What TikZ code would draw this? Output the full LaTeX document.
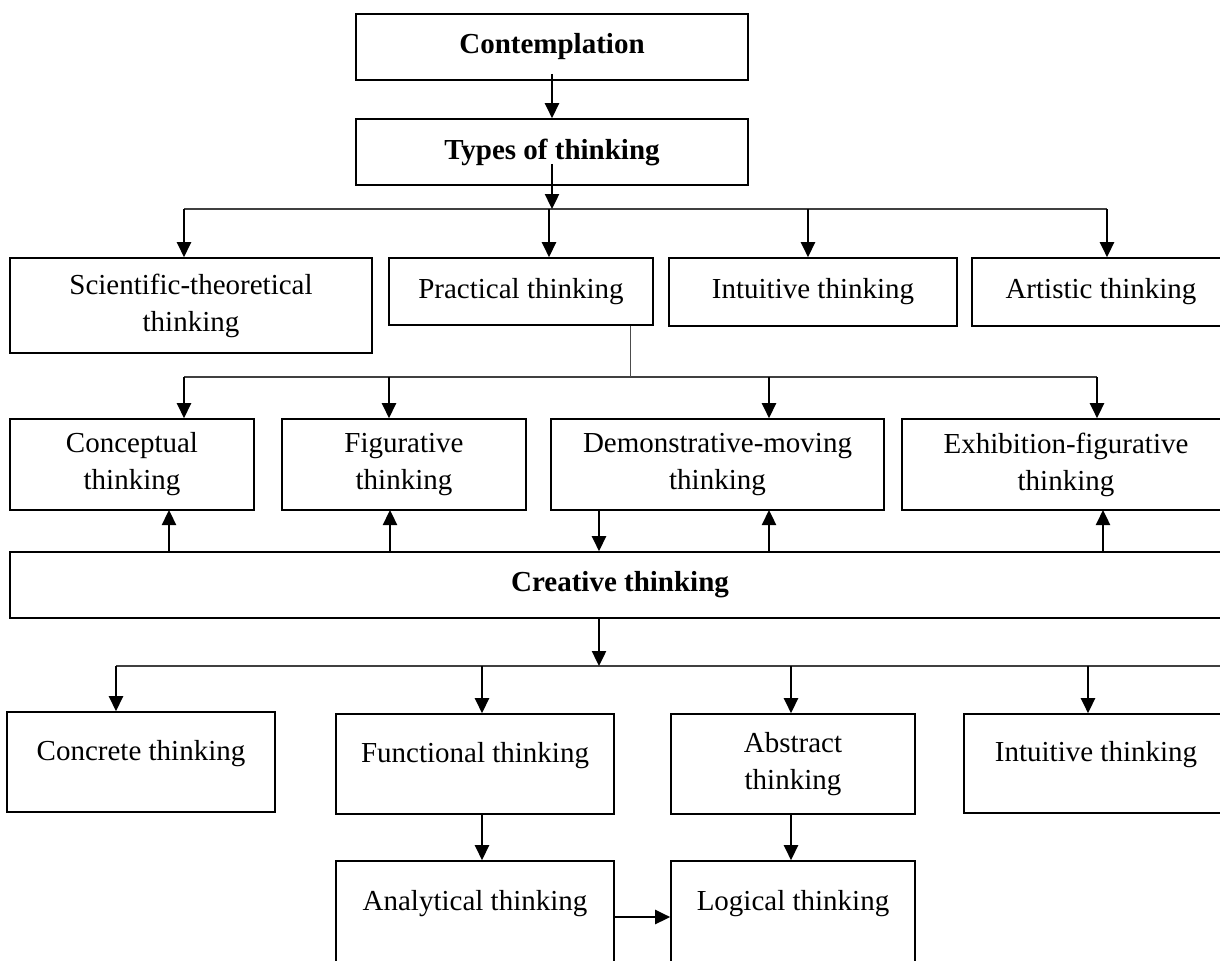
\documentclass[tikz,border=0pt]{standalone}
\usepackage{fontspec}
\setmainfont{Liberation Serif}
\usetikzlibrary{arrows.meta}
\begin{document}
\begin{tikzpicture}[x=0.5pt,y=-0.5pt,
    font=\fontsize{14.5}{18.5}\selectfont,
    box/.style={draw,line width=0.8pt,align=center,inner sep=0pt},
    lifted/.style={text depth=12pt},
    bus/.style={line width=0.6pt,black!75},
    >={Triangle[length=7.5pt,width=7pt]}]
      \useasboundingbox (0,0) rectangle (1220,960);
      \clip (0,0) rectangle (1220,960);
      \draw
        (552,47) node[box,minimum width=196pt,minimum height=33pt] (cont){\textbf{Contemplation}}
        (552,152) node[box,minimum width=196pt,minimum height=33pt] (types){\textbf{Types of thinking}}
        (191,305.5) node[box,minimum width=181pt,minimum height=47.5pt] (sci){Scientific-theoretical\\thinking}
        (521,291.5) node[box,minimum width=132pt,minimum height=33.5pt] (prac){Practical thinking}
        (813,292) node[box,minimum width=144pt,minimum height=34pt] (intu){Intuitive thinking}
        (1101,292) node[box,minimum width=129pt,minimum height=34pt] (art){Artistic thinking}
        (132,464.5) node[box,minimum width=122pt,minimum height=45.5pt] (conc){Conceptual\\thinking}
        (404,464.5) node[box,minimum width=122pt,minimum height=45.5pt] (fig){Figurative\\thinking}
        (717.5,464.5) node[box,minimum width=166.5pt,minimum height=45.5pt] (demo){Demonstrative-moving\\thinking}
        (1066,464.5) node[box,minimum width=164pt,minimum height=45.5pt] (exh){Exhibition-figurative\\thinking}
        (620,585) node[box,minimum width=610pt,minimum height=33pt] (crea){\textbf{Creative thinking}}
        (141,762) node[box,lifted,minimum width=134pt,minimum height=50pt] (concr){Concrete thinking}
        (475,764) node[box,lifted,minimum width=139pt,minimum height=50pt] (func){Functional thinking}
        (793,764) node[box,minimum width=122pt,minimum height=50pt] (abst){Abstract\\thinking}
        (1096,763.5) node[box,lifted,minimum width=132pt,minimum height=49.5pt] (intub){Intuitive thinking}
        (475,914) node[box,text depth=14pt,minimum width=139pt,minimum height=53pt] (anal){Analytical thinking}
        (793,914) node[box,text depth=14pt,minimum width=122pt,minimum height=53pt] (logi){Logical thinking};
      % bus points
      \coordinate (t1) at (184,209);
      \coordinate (t2) at (549,209);
      \coordinate (t3) at (808,209);
      \coordinate (t4) at (1107,209);
      \coordinate (s0) at (630,377);
      \coordinate (s1) at (184,377);
      \coordinate (s2) at (389,377);
      \coordinate (s3) at (769,377);
      \coordinate (s4) at (1097,377);
      \coordinate (u1) at (169,510);
      \coordinate (u2) at (390,510);
      \coordinate (u3) at (769,510);
      \coordinate (u4) at (1103,510);
      \coordinate (r0) at (599,666);
      \coordinate (r1) at (116,666);
      \coordinate (r2) at (482,666);
      \coordinate (r3) at (791,666);
      \coordinate (r4) at (1088,666);
      \coordinate (r5) at (1240,666);
      \draw[bus] (t1) -- (t4);
      \draw[bus] (s1) -- (s4);
      \draw[bus] (r1) -- (r5);
      \draw[line width=0.4pt,black!70] (s0 |- prac.south) -- (s0);
      \begin{scope}[->,line width=1.2pt]
        \draw ([yshift=3.5pt]cont.south) to (types.north);
        \draw ([yshift=11pt]types.south) to (types.south |- t1);
        \draw (t1) to (t1 |- sci.north);
        \draw (t2) to (t2 |- prac.north);
        \draw (t3) to (t3 |- intu.north);
        \draw (t4) to (t4 |- art.north);
        \draw (s1) to (s1 |- conc.north);
        \draw (s2) to (s2 |- fig.north);
        \draw (s3) to (s3 |- demo.north);
        \draw (s4) to (s4 |- exh.north);
        \draw (u1 |- crea.north) to (u1);
        \draw (u2 |- crea.north) to (u2);
        \draw (u3 |- crea.north) to (u3);
        \draw (u4 |- crea.north) to (u4);
        \draw (r0 |- demo.south) to (r0 |- crea.north);
        \draw (r0 |- crea.south) to (r0);
        \draw (r1) to (r1 |- concr.north);
        \draw (r2) to (r2 |- func.north);
        \draw (r3) to (r3 |- abst.north);
        \draw (r4) to (r4 |- intub.north);
        \draw (r2 |- func.south) to (r2 |- anal.north);
        \draw (r3 |- abst.south) to (r3 |- logi.north);
        \draw ([yshift=-1.5pt]anal.east) to ([yshift=-1.5pt]logi.west);
      \end{scope}
    \end{tikzpicture}
\end{document}
